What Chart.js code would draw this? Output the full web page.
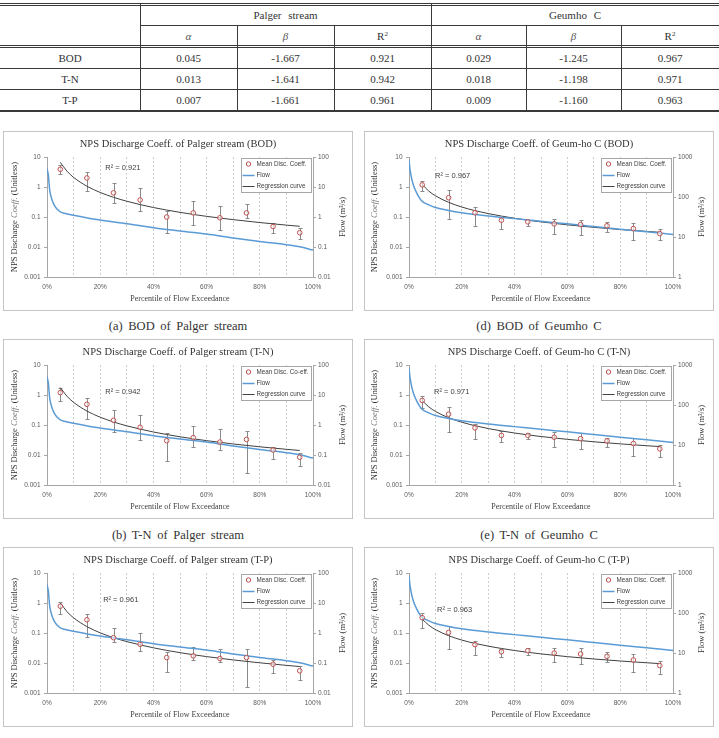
<!DOCTYPE html>
<html><head><meta charset="utf-8">
<script src="https://cdn.jsdelivr.net/npm/chart.js@4.4.0/dist/chart.umd.min.js"></script>
<style>
html,body{margin:0;padding:0;background:#fff;}
body{position:relative;width:719px;height:738px;overflow:hidden;font-family:"Liberation Serif","Times New Roman",serif;color:#333;}
.hl,.vl{position:absolute;background:#3a3a3a;}
.tc{position:absolute;text-align:center;font-size:11px;line-height:14px;white-space:nowrap;word-spacing:4px;color:#333;}
.tc sup{font-size:7px;line-height:0;vertical-align:4px;}
.gk{font-style:italic;color:#555;}
.panel{position:absolute;width:350px;height:180px;box-sizing:border-box;border:1px solid #c4c4c4;background:#fff;}
.panel canvas{position:absolute;left:0;top:0;}
.cap{position:absolute;width:350px;text-align:center;font-size:12.5px;line-height:16px;word-spacing:2.5px;color:#333;white-space:nowrap;}
</style></head><body>
<div id="root"></div>
<script>
// ---------- table data ----------
const tableStreams = ['Palger stream', 'Geumho C'];
const tableParams = ['α', 'β', 'R2'];
const tableRows = ['BOD', 'T-N', 'T-P'];
const palgerAlpha = ['0.045', '0.013', '0.007'];
const palgerBeta  = ['-1.667', '-1.641', '-1.661'];
const palgerR2    = ['0.921', '0.942', '0.961'];
const geumhoAlpha = ['0.029', '0.018', '0.009'];
const geumhoBeta  = ['-1.245', '-1.198', '-1.160'];
const geumhoR2    = ['0.967', '0.971', '0.963'];

// ---------- chart data ----------
const pctX   = [5, 15, 25, 35, 45, 55, 65, 75, 85, 95];
const curveX = [5, 7.5, 10, 15, 20, 25, 30, 40, 50, 60, 70, 80, 90, 95];
const xTickValues = [0, 10, 20, 30, 40, 50, 60, 70, 80, 90, 100];
const leftTicks = [0.001, 0.01, 0.1, 1, 10];
const palgerFlowTicks = [0.01, 0.1, 1, 10, 100];
const geumhoFlowTicks = [1, 10, 100, 1000];

const flowXPalger = [0, 0.5, 1, 1.5, 2, 3, 4, 5, 7, 10, 20, 30, 40, 50, 60, 70, 80, 90, 95, 100];
const flowPalger  = [41, 25, 8.0, 4.85, 3.5, 2.27, 1.77, 1.48, 1.31, 1.15, 0.79, 0.60, 0.44, 0.34, 0.27, 0.20, 0.153, 0.119, 0.102, 0.079];
const flowXGeumho = [0, 0.3, 0.7, 1.2, 2, 3, 4, 5, 7.5, 10, 15, 20, 30, 40, 50, 60, 70, 80, 90, 100];
const flowGeumho  = [860, 537, 368, 252, 173, 123, 94, 78, 63.5, 54.6, 46, 40.4, 33.5, 28.8, 24.7, 21.3, 18.3, 15.7, 13.5, 11.6];

const bodPalgerMean = [3.9, 2.0, 0.64, 0.37, 0.10, 0.137, 0.094, 0.137, 0.048, 0.030];
const bodPalgerHi   = [5.6, 3.05, 1.4, 0.91, 0.16, 0.33, 0.233, 0.27, 0.061, 0.042];
const bodPalgerLo   = [2.8, 0.71, 0.29, 0.16, 0.0295, 0.053, 0.036, 0.09, 0.030, 0.018];
const bodPalgerReg  = [6.64, 3.38, 2.09, 1.063, 0.658, 0.454, 0.335, 0.207, 0.143, 0.105, 0.0816, 0.0653, 0.0536, 0.0490];

const tnPalgerMean = [1.2, 0.49, 0.143, 0.084, 0.030, 0.038, 0.027, 0.033, 0.0147, 0.0084];
const tnPalgerHi   = [1.67, 0.81, 0.32, 0.215, 0.053, 0.095, 0.072, 0.063, 0.019, 0.012];
const tnPalgerLo   = [0.65, 0.158, 0.057, 0.032, 0.0063, 0.019, 0.0147, 0.00245, 0.0072, 0.0044];
const tnPalgerReg  = [1.773, 0.912, 0.569, 0.292, 0.182, 0.1265, 0.0938, 0.0585, 0.0405, 0.0301, 0.0233, 0.01875, 0.01546, 0.01414];

const tpPalgerMean = [0.785, 0.277, 0.070, 0.042, 0.0152, 0.0173, 0.0141, 0.0152, 0.0091, 0.0055];
const tpPalgerHi   = [1.09, 0.44, 0.15, 0.103, 0.024, 0.034, 0.029, 0.030, 0.0127, 0.0080];
const tpPalgerLo   = [0.416, 0.075, 0.050, 0.025, 0.0052, 0.0124, 0.0104, 0.00154, 0.0045, 0.0028];
const tpPalgerReg  = [1.014, 0.517, 0.3206, 0.1635, 0.1014, 0.0700, 0.0517, 0.0321, 0.0221, 0.01635, 0.01266, 0.01014, 0.00834, 0.00762];

const bodGeumhoMean = [1.18, 0.44, 0.139, 0.078, 0.069, 0.059, 0.056, 0.051, 0.041, 0.028];
const bodGeumhoHi   = [1.55, 0.77, 0.21, 0.103, 0.080, 0.088, 0.082, 0.070, 0.065, 0.039];
const bodGeumhoLo   = [0.73, 0.086, 0.052, 0.041, 0.051, 0.028, 0.025, 0.031, 0.017, 0.017];
const bodGeumhoReg  = [1.208, 0.729, 0.510, 0.308, 0.215, 0.163, 0.130, 0.0907, 0.0687, 0.0548, 0.0452, 0.0383, 0.0331, 0.0309];

const tnGeumhoMean = [0.66, 0.23, 0.080, 0.045, 0.045, 0.039, 0.035, 0.0295, 0.024, 0.016];
const tnGeumhoHi   = [0.94, 0.385, 0.111, 0.062, 0.054, 0.057, 0.054, 0.037, 0.037, 0.0223];
const tnGeumhoLo   = [0.37, 0.057, 0.034, 0.027, 0.033, 0.0187, 0.0164, 0.019, 0.0096, 0.0087];
const tnGeumhoReg  = [0.651, 0.401, 0.284, 0.1747, 0.1238, 0.0948, 0.0762, 0.0540, 0.0413, 0.0332, 0.0276, 0.0235, 0.0204, 0.0191];

const tpGeumhoMean = [0.325, 0.104, 0.041, 0.0238, 0.0257, 0.0215, 0.0200, 0.0167, 0.0126, 0.0082];
const tpGeumhoHi   = [0.48, 0.173, 0.055, 0.029, 0.031, 0.031, 0.031, 0.0226, 0.020, 0.0114];
const tpGeumhoLo   = [0.145, 0.029, 0.0185, 0.0155, 0.019, 0.0111, 0.0093, 0.0106, 0.0049, 0.0044];
const tpGeumhoReg  = [0.2907, 0.1816, 0.1301, 0.0813, 0.0582, 0.0449, 0.0364, 0.0261, 0.0201, 0.01628, 0.01361, 0.01166, 0.01017, 0.00955];

const SERIF = '"Liberation Serif", "Times New Roman", serif';
const SANS = '"Liberation Sans", Arial, sans-serif';

// ---------- table ----------
const root = document.getElementById('root');
function el(cls, css, html) {
  const d = document.createElement('div');
  d.className = cls; Object.assign(d.style, css);
  if (html !== undefined) d.innerHTML = html;
  root.appendChild(d); return d;
}
const colX = [0, 140, 237, 334, 431, 526, 621, 719];
[[3, 0, 719, 1], [5, 0, 719, 1], [25, 140, 719, 1], [45, 0, 719, 1], [47, 0, 719, 1], [68, 0, 719, 1], [89, 0, 719, 1], [110, 0, 719, 1.5]]
  .forEach(([y, x1, x2, h]) => el('hl', {left: x1 + 'px', top: y + 'px', width: (x2 - x1) + 'px', height: h + 'px'}));
[[140, 3], [431, 3], [237, 25], [334, 25], [526, 25], [621, 25]]
  .forEach(([x, y1]) => el('vl', {left: x + 'px', top: y1 + 'px', width: '1px', height: (111 - y1) + 'px'}));
function cell(x1, x2, cy, html) {
  el('tc', {left: x1 + 'px', width: (x2 - x1) + 'px', top: (cy - 7) + 'px'}, html);
}
cell(colX[1], colX[4], 15, tableStreams[0]);
cell(colX[4], colX[7], 15, tableStreams[1]);
const paramHtml = p => p === 'R2' ? 'R<sup>2</sup>' : '<span class="gk">' + p + '</span>';
for (let k = 0; k < 6; k++) cell(colX[k + 1], colX[k + 2], 36, paramHtml(tableParams[k % 3]));
const rowCY = [57.5, 78.5, 99.5];
const cols = [palgerAlpha, palgerBeta, palgerR2, geumhoAlpha, geumhoBeta, geumhoR2];
tableRows.forEach((r, i) => {
  cell(colX[0], colX[1], rowCY[i], r);
  cols.forEach((c, k) => cell(colX[k + 1], colX[k + 2], rowCY[i], c[i]));
});

// ---------- panels ----------
const panels = [
  {left: 3, top: 131, capY: 326, title: 'NPS Discharge Coeff. of Palger stream (BOD)', caption: '(a) BOD of Palger stream',
   mean: bodPalgerMean, hi: bodPalgerHi, lo: bodPalgerLo, reg: bodPalgerReg, flowX: flowXPalger, flow: flowPalger,
   y2: palgerFlowTicks, r2: palgerR2[0], r2At: [21.9, 4.3], legendMean: 'Mean Disc. Coeff.', leftW: 43, rightW: 39, ltX: 11, rtX: 339},
  {left: 3, top: 339, capY: 534.5, title: 'NPS Discharge Coeff. of Palger stream (T-N)', caption: '(b) T-N of Palger stream',
   mean: tnPalgerMean, hi: tnPalgerHi, lo: tnPalgerLo, reg: tnPalgerReg, flowX: flowXPalger, flow: flowPalger,
   y2: palgerFlowTicks, r2: palgerR2[1], r2At: [21.9, 1.23], legendMean: 'Mean Disc. Co-eff.', leftW: 43, rightW: 39, ltX: 11, rtX: 339},
  {left: 3, top: 547, capY: 744, title: 'NPS Discharge Coeff. of Palger stream (T-P)', caption: '(c) T-P of Palger stream',
   mean: tpPalgerMean, hi: tpPalgerHi, lo: tpPalgerLo, reg: tpPalgerReg, flowX: flowXPalger, flow: flowPalger,
   y2: palgerFlowTicks, r2: palgerR2[2], r2At: [21.1, 1.28], legendMean: 'Mean Disc. Coeff.', leftW: 43, rightW: 39, ltX: 11, rtX: 339},
  {left: 364, top: 131, capY: 326, title: 'NPS Discharge Coeff. of Geum-ho C (BOD)', caption: '(d) BOD of Geumho C',
   mean: bodGeumhoMean, hi: bodGeumhoHi, lo: bodGeumhoLo, reg: bodGeumhoReg, flowX: flowXGeumho, flow: flowGeumho,
   y2: geumhoFlowTicks, r2: geumhoR2[0], r2At: [9.85, 2.38], legendMean: 'Mean Disc. Coeff.', leftW: 44, rightW: 40, ltX: 10, rtX: 337},
  {left: 364, top: 339, capY: 534.5, title: 'NPS Discharge Coeff. of Geum-ho C (T-N)', caption: '(e) T-N of Geumho C',
   mean: tnGeumhoMean, hi: tnGeumhoHi, lo: tnGeumhoLo, reg: tnGeumhoReg, flowX: flowXGeumho, flow: flowGeumho,
   y2: geumhoFlowTicks, r2: geumhoR2[1], r2At: [9.5, 1.31], legendMean: 'Mean Disc. Coeff.', leftW: 44, rightW: 40, ltX: 10, rtX: 337},
  {left: 364, top: 547, capY: 744, title: 'NPS Discharge Coeff. of Geum-ho C (T-P)', caption: '(f) T-P of Geumho C',
   mean: tpGeumhoMean, hi: tpGeumhoHi, lo: tpGeumhoLo, reg: tpGeumhoReg, flowX: flowXGeumho, flow: flowGeumho,
   y2: geumhoFlowTicks, r2: geumhoR2[2], r2At: [10.6, 0.567], legendMean: 'Mean Disc. Coeff.', leftW: 44, rightW: 40, ltX: 10, rtX: 337}
];

Chart.defaults.font.family = SANS;

function makePanel(p) {
  const box = el('panel', {left: p.left + 'px', top: p.top + 'px'});
  const cv = document.createElement('canvas');
  cv.width = 348; cv.height = 178;
  cv.style.width = '348px'; cv.style.height = '178px';
  box.appendChild(cv);
  el('cap', {left: p.left + 'px', top: (p.capY - 8) + 'px'}, p.caption);

  const deco = {
    id: 'deco',
    beforeDatasetsDraw(chart) {
      const {ctx, chartArea: ca, scales} = chart;
      const ds = chart.data.datasets[0];
      ctx.save();
      ctx.beginPath(); ctx.rect(ca.left, ca.top, ca.width, ca.height); ctx.clip();
      ctx.strokeStyle = '#8a8a8a'; ctx.lineWidth = 1;
      ds.data.forEach((pt, i) => {
        const x = Math.round(scales.x.getPixelForValue(pt.x)) + 0.5;
        const y1 = Math.round(scales.y.getPixelForValue(ds.errHi[i])) + 0.5;
        const y2 = Math.round(scales.y.getPixelForValue(ds.errLo[i])) + 0.5;
        ctx.beginPath();
        ctx.moveTo(x, y1); ctx.lineTo(x, y2);
        ctx.moveTo(x - 2, y1); ctx.lineTo(x + 2, y1);
        ctx.moveTo(x - 2, y2); ctx.lineTo(x + 2, y2);
        ctx.stroke();
      });
      ctx.restore();
    },
    afterDraw(chart) {
      const {ctx, chartArea: ca, scales} = chart;
      ctx.save();
      ctx.font = '7.5px ' + SANS; ctx.fillStyle = '#404040';
      ctx.textBaseline = 'middle'; ctx.textAlign = 'left';
      ctx.fillText('R² = ' + p.r2, scales.x.getPixelForValue(p.r2At[0]), scales.y.getPixelForValue(p.r2At[1]));
      const lw = 70, lh = 34;
      const lx = Math.round(ca.right - 2 - lw) + 0.5, ly = Math.round(ca.top + 1) + 0.5;
      ctx.fillStyle = '#fff'; ctx.fillRect(lx, ly, lw, lh);
      ctx.strokeStyle = '#a6a6a6'; ctx.lineWidth = 1; ctx.strokeRect(lx, ly, lw, lh);
      const rows = [ly + 5.5, ly + 17, ly + 28];
      const labels = chart.data.datasets.map(d => d.label);
      ctx.font = '6.3px ' + SANS; ctx.fillStyle = '#404040';
      ctx.beginPath(); ctx.arc(lx + 7, rows[0], 2.2, 0, Math.PI * 2);
      ctx.strokeStyle = '#c0504d'; ctx.stroke();
      ctx.fillText(labels[0], lx + 15, rows[0]);
      ctx.beginPath(); ctx.moveTo(lx + 1, rows[1]); ctx.lineTo(lx + 13, rows[1]);
      ctx.strokeStyle = '#5b9bd5'; ctx.lineWidth = 1.5; ctx.stroke();
      ctx.fillText(labels[1], lx + 15, rows[1]);
      ctx.beginPath(); ctx.moveTo(lx + 1, rows[2]); ctx.lineTo(lx + 13, rows[2]);
      ctx.strokeStyle = '#404040'; ctx.lineWidth = 1; ctx.stroke();
      ctx.fillText(labels[2], lx + 15, rows[2]);
      const cy = (ca.top + ca.bottom) / 2;
      const segs = [['NPS Discharge ', '', '#333'], ['Coeff.', 'italic ', '#777'], [' (Unitless)', '', '#333']];
      let total = 0;
      segs.forEach(s => { ctx.font = s[1] + '8.5px ' + SERIF; s.w = ctx.measureText(s[0]).width; total += s.w; });
      ctx.save();
      ctx.translate(p.ltX, cy); ctx.rotate(-Math.PI / 2);
      ctx.textAlign = 'left'; ctx.textBaseline = 'middle';
      let xx = -total / 2;
      segs.forEach(s => { ctx.font = s[1] + '8.5px ' + SERIF; ctx.fillStyle = s[2]; ctx.fillText(s[0], xx, 0); xx += s.w; });
      ctx.restore();
      ctx.save();
      ctx.translate(p.rtX, cy); ctx.rotate(-Math.PI / 2);
      ctx.font = '8.5px ' + SERIF; ctx.fillStyle = '#333';
      ctx.textAlign = 'center'; ctx.textBaseline = 'middle';
      ctx.fillText('Flow (m³/s)', 0, 0);
      ctx.restore();
      ctx.restore();
    }
  };

  const tickFont = {family: SANS, size: 6.5};
  new Chart(cv, {
    type: 'line',
    data: {datasets: [
      {label: p.legendMean, data: pctX.map((x, i) => ({x, y: p.mean[i]})), errLo: p.lo, errHi: p.hi,
       yAxisID: 'y', showLine: false, pointRadius: 2.3, pointBorderWidth: 1, pointBorderColor: '#c0504d',
       pointBackgroundColor: 'rgba(255,255,255,0.6)', borderColor: '#c0504d', backgroundColor: 'rgba(255,255,255,0.6)'},
      {label: 'Flow', data: p.flowX.map((x, i) => ({x, y: p.flow[i]})), yAxisID: 'y2',
       borderColor: '#5b9bd5', borderWidth: 1.5, pointRadius: 0, cubicInterpolationMode: 'monotone', fill: false},
      {label: 'Regression curve', data: curveX.map((x, i) => ({x, y: p.reg[i]})), yAxisID: 'y',
       borderColor: '#404040', borderWidth: 1, pointRadius: 0, cubicInterpolationMode: 'monotone', fill: false}
    ]},
    options: {
      responsive: false, animation: false, devicePixelRatio: 1,
      layout: {padding: 0},
      events: [],
      plugins: {
        legend: {display: false}, tooltip: {enabled: false},
        title: {display: true, text: p.title, color: '#333', font: {family: SERIF, size: 10.5, weight: 'normal'},
                padding: {top: 5.5, bottom: 6.9}}
      },
      scales: {
        x: {type: 'linear', min: 0, max: 100,
            afterBuildTicks: s => { s.ticks = xTickValues.map(v => ({value: v})); },
            afterFit: s => { s.height = 33; },
            ticks: {callback: v => (v % 20 === 0 ? v + '%' : ''), font: tickFont, color: '#595959', padding: 6,
                    maxRotation: 0, autoSkip: false},
            grid: {drawTicks: false, lineWidth: 1,
                   color: c => (c.tick && c.tick.value > 0 && c.tick.value < 100) ? '#cdcdcd' : 'rgba(0,0,0,0)'},
            border: {display: true, color: '#a6a6a6', dash: [2, 2]},
            title: {display: true, text: 'Percentile of Flow Exceedance', color: '#404040',
                    font: {family: SERIF, size: 8}, padding: {top: 0, bottom: 6}}},
        y: {type: 'logarithmic', position: 'left', min: 0.001, max: 10,
            afterBuildTicks: s => { s.ticks = leftTicks.map(v => ({value: v})); },
            afterFit: s => { s.width = p.leftW; },
            ticks: {callback: v => String(v), font: tickFont, color: '#595959', padding: 3.5, autoSkip: false},
            grid: {drawOnChartArea: false, drawTicks: true, tickLength: 3, tickColor: '#a6a6a6'},
            border: {display: true, color: '#a6a6a6'}},
        y2: {type: 'logarithmic', position: 'right', min: p.y2[0], max: p.y2[p.y2.length - 1],
            afterBuildTicks: s => { s.ticks = p.y2.map(v => ({value: v})); },
            afterFit: s => { s.width = p.rightW; },
            ticks: {callback: v => String(v), font: tickFont, color: '#595959', padding: 2, autoSkip: false},
            grid: {drawOnChartArea: false, drawTicks: true, tickLength: 3, tickColor: '#a6a6a6'},
            border: {display: true, color: '#a6a6a6'}}
      }
    },
    plugins: [deco]
  });
}
panels.forEach(makePanel);
</script></body></html>
